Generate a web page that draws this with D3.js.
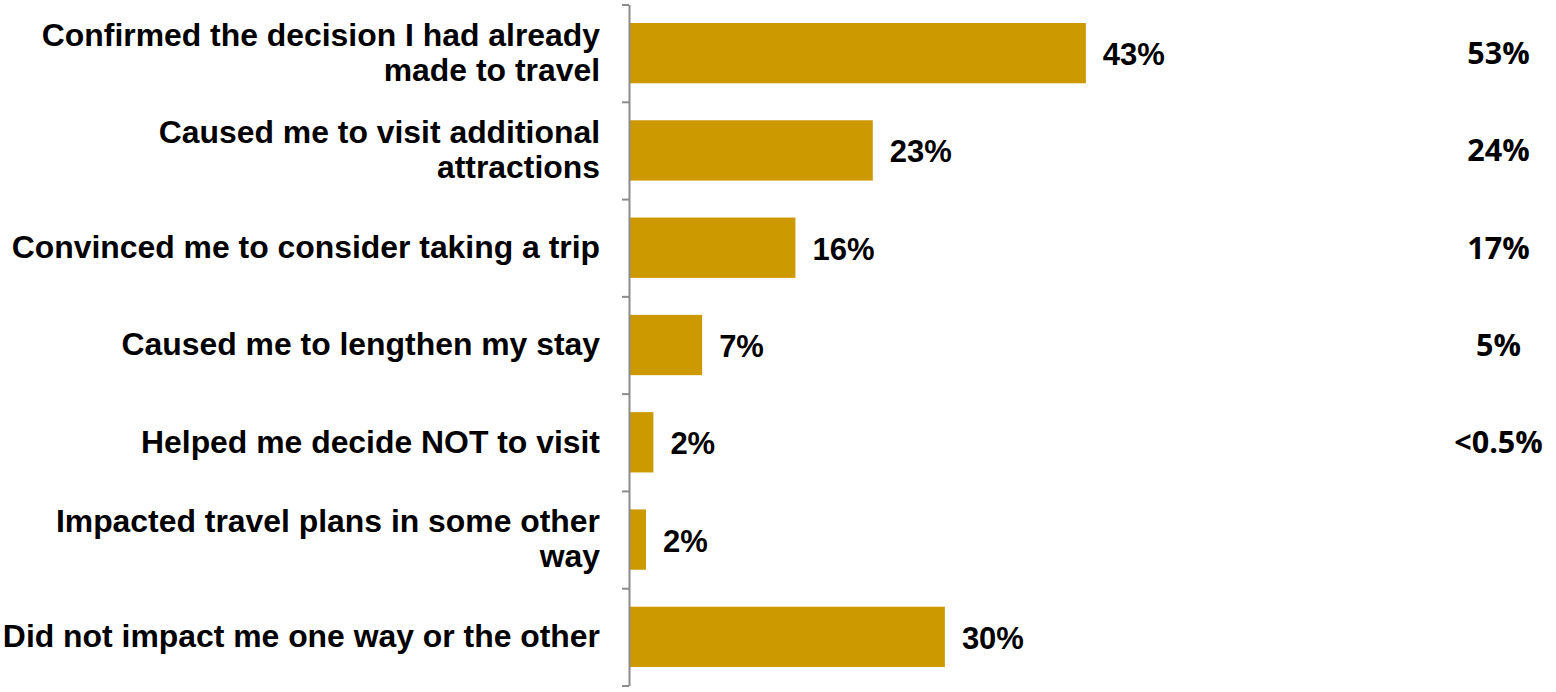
<!DOCTYPE html>
<html>
<head>
<meta charset="utf-8">
<script src="https://cdn.jsdelivr.net/npm/d3@7"></script>
<style>
  html, body { margin: 0; padding: 0; background: #fff; }
  svg { display: block; }
</style>
</head>
<body>
<svg id="chart" width="1556" height="692"></svg>
<script>
// Survey responses: how the travel content affected trip plans
const categories = [
  "Confirmed the decision I had already\nmade to travel",
  "Caused me to visit additional\nattractions",
  "Convinced me to consider taking a trip",
  "Caused me to lengthen my stay",
  "Helped me decide NOT to visit",
  "Impacted travel plans in some other\nway",
  "Did not impact me one way or the other"
];
const shares = [43.1, 23.0, 15.7, 6.9, 2.3, 1.6, 29.8];
// Comparison figures shown in the right-hand column
const comparisonLabels = ["53%", "24%", "17%", "5%", "<0.5%"];

const svg = d3.select("#chart");
const axisX = 629;

const x = d3.scaleLinear().domain([0, 50]).range([axisX, axisX + 530]);
const y = d3.scaleBand().domain(categories).range([4.5, 685.5]).padding(0);
const bw = y.bandwidth();
const edges = d3.scaleLinear().domain([0, categories.length]).range([4.5, 685.5]);

// Bars
svg.append("g").selectAll("rect")
  .data(categories)
  .join("rect")
  .attr("x", axisX)
  .attr("y", d => y(d) + bw * 0.19)
  .attr("width", (d, i) => x(shares[i]) - axisX)
  .attr("height", bw * 0.62)
  .attr("fill", "#CC9900");

// Category axis with ticks at band boundaries
const axis = svg.append("g")
  .attr("transform", `translate(${axisX},0)`)
  .call(d3.axisLeft(edges)
    .tickValues(d3.range(categories.length + 1))
    .tickFormat("")
    .tickSize(7)
    .tickSizeOuter(0));
axis.selectAll("path, line").attr("stroke", "#8c8c8c").attr("stroke-width", 2);

// Category labels (right-aligned, wrapped)
const labelFont = "'Liberation Sans', Arial, sans-serif";
const lineH = 35;
svg.append("g").selectAll("text")
  .data(categories)
  .join("text")
  .attr("text-anchor", "end")
  .attr("font-family", labelFont)
  .attr("font-weight", "bold")
  .attr("font-size", 31.9)
  .attr("fill", "#000")
  .each(function (d) {
    const lines = d.split("\n");
    const cy = y(d) + bw / 2 - 1;
    const first = cy - (lines.length - 1) * lineH / 2;
    d3.select(this).selectAll("tspan")
      .data(lines)
      .join("tspan")
      .attr("x", 600)
      .attr("y", (l, j) => first + j * lineH)
      .attr("dy", "0.355em")
      .text(l => l);
  });

// Value labels next to bars
const fmt = v => d3.format(".0f")(v) + "%";
svg.append("g").selectAll("text")
  .data(categories)
  .join("text")
  .attr("x", (d, i) => x(shares[i]) + 17)
  .attr("y", d => y(d) + bw / 2 + 1)
  .attr("dy", "0.355em")
  .attr("font-family", labelFont)
  .attr("font-weight", "bold")
  .attr("font-size", 31)
  .attr("fill", "#000")
  .text((d, i) => fmt(shares[i]));

// Comparison column
svg.append("g").selectAll("text")
  .data(comparisonLabels)
  .join("text")
  .attr("x", 1498.5)
  .attr("y", (d, i) => y(categories[i]) + bw / 2)
  .attr("dy", "0.36em")
  .attr("text-anchor", "middle")
  .attr("font-family", "'Open Sans', sans-serif")
  .attr("font-weight", "bold")
  .attr("font-size", 30.5)
  .attr("fill", "#000")
  .text(d => d);
</script>
</body>
</html>
